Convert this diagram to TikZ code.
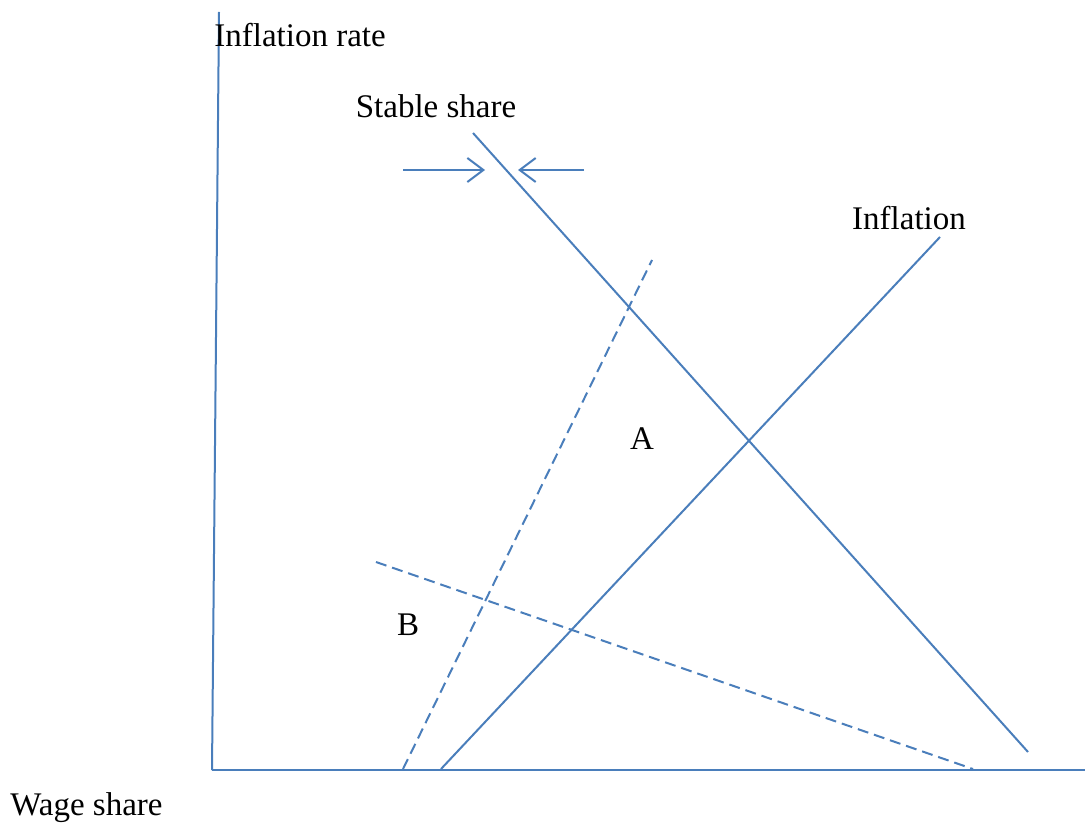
\documentclass[tikz,border=0pt]{standalone}
\usepackage{fontspec}
\setmainfont{Liberation Serif}
\usepackage{xcolor}
\usetikzlibrary{arrows.meta,positioning,calc}
\definecolor{lineblue}{HTML}{4A7EBB}

\begin{document}
\begin{tikzpicture}[
  x=0.5pt, y=-0.5pt,
  curve/.style={draw=lineblue, line width=1pt},
  dcurve/.style={curve, dash pattern=on 5.5pt off 3pt},
  arr/.style={lineblue, line width=1pt,
    -{Straight Barb[length=8pt, width=12pt, line width=1pt]}},
  lbl/.style={font=\fontsize{16.5}{19}\selectfont, inner sep=0pt},
]
\useasboundingbox (0,0) rectangle (1085,823);

% axes
\coordinate (O) at (212,770);
\coordinate (ytop) at (219,12);
\coordinate (xend) at (1085,770);
\draw[curve] (O) -- (ytop);
\draw[curve] (O) -- (xend);
\node[lbl, anchor=west] (yl) at (214,35) {Inflation rate};
\node[lbl, anchor=west] (xl) at (10,808) {Wage share};

% stable share line and arrows
\coordinate (s1) at (473,133);
\coordinate (s2) at (1028,752);
\draw[curve] (s1) -- (s2);
\node[lbl] (sl) at (436,106) {Stable share};
\coordinate (al1) at (403,170);
\coordinate (al2) at (485,170);
\coordinate (ar1) at (584,170);
\coordinate (ar2) at (518,170);
\draw[arr] (al1) -- (al2);
\draw[arr] (ar1) -- (ar2);

% inflation line
\coordinate (i1) at (441,769);
\coordinate (i2) at (940,237);
\draw[curve] (i1) -- (i2);
\node[lbl] (il) at (909,218) {Inflation};

% dashed lines
\coordinate (d1) at (403,769);
\coordinate (d2) at (652,260);
\draw[dcurve] (d1) -- (d2);
\coordinate (e1) at (376,562);
\coordinate (e2) at (973,769);
\draw[dcurve] (e1) -- (e2);

% regions
\node[lbl] (A) at (642,439) {A};
\node[lbl] (B) at (408,625) {B};
\end{tikzpicture}
\end{document}
